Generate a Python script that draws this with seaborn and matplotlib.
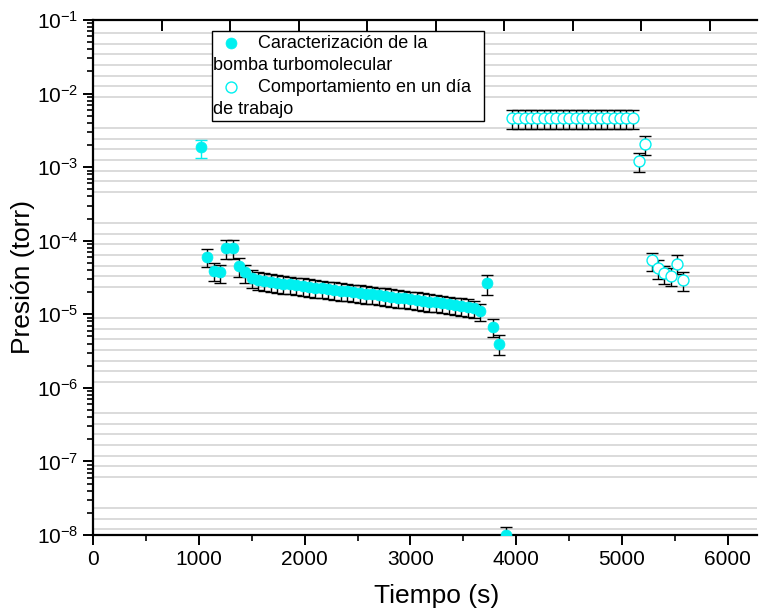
import matplotlib
matplotlib.use("Agg")
import matplotlib.pyplot as plt
import seaborn as sns
from matplotlib.lines import Line2D
from matplotlib.ticker import MultipleLocator, LogLocator, NullFormatter

# Datos
# Caracterización de la bomba turbomolecular (círculos llenos)
t_bomba = [1020, 1080, 1140, 1200, 1260, 1320, 1380,
           1440, 1500, 1560, 1620, 1680, 1740, 1800, 1860, 1920, 1980,
           2040, 2100, 2160, 2220, 2280, 2340, 2400, 2460, 2520, 2580,
           2640, 2700, 2760, 2820, 2880, 2940, 3000, 3060, 3120, 3180,
           3240, 3300, 3360, 3420, 3480, 3540, 3600, 3660,
           3720, 3780, 3840, 3900]
p_bomba = [1.85e-3, 6.0e-5, 3.9e-5, 3.7e-5, 7.9e-5, 7.9e-5, 4.5e-5,
           3.7e-5, 3.15e-5, 2.95e-5, 2.85e-5, 2.75e-5, 2.68e-5, 2.6e-5, 2.55e-5, 2.48e-5, 2.42e-5,
           2.36e-5, 2.31e-5, 2.25e-5, 2.2e-5, 2.15e-5, 2.1e-5, 2.05e-5, 2.0e-5, 1.96e-5, 1.91e-5,
           1.86e-5, 1.82e-5, 1.77e-5, 1.73e-5, 1.69e-5, 1.65e-5, 1.61e-5, 1.57e-5, 1.53e-5, 1.49e-5,
           1.45e-5, 1.41e-5, 1.37e-5, 1.33e-5, 1.29e-5, 1.25e-5, 1.2e-5, 1.1e-5,
           2.65e-5, 6.8e-6, 4.0e-6, 1.0e-8]
err_bomba = [0.5e-3, 1.6e-5, 1.1e-5, 1.0e-5, 2.2e-5, 2.2e-5, 1.25e-5,
             1.0e-5, 0.85e-5, 0.8e-5, 0.77e-5, 0.74e-5, 0.72e-5, 0.7e-5, 0.69e-5, 0.67e-5, 0.65e-5,
             0.64e-5, 0.62e-5, 0.61e-5, 0.59e-5, 0.58e-5, 0.57e-5, 0.55e-5, 0.54e-5, 0.53e-5, 0.52e-5,
             0.5e-5, 0.49e-5, 0.48e-5, 0.47e-5, 0.46e-5, 0.45e-5, 0.43e-5, 0.42e-5, 0.41e-5, 0.4e-5,
             0.39e-5, 0.38e-5, 0.37e-5, 0.36e-5, 0.35e-5, 0.34e-5, 0.32e-5, 0.3e-5,
             0.8e-5, 1.9e-6, 1.2e-6, 0.3e-8]

# Comportamiento en un día de trabajo (círculos vacíos)
t_dia = [3960, 4020, 4080, 4140, 4200, 4260, 4320, 4380, 4440, 4500,
         4560, 4620, 4680, 4740, 4800, 4860, 4920, 4980, 5040, 5100,
         5160, 5220, 5280, 5340, 5400, 5460, 5520, 5580]
p_dia = [4.6e-3, 4.6e-3, 4.6e-3, 4.6e-3, 4.6e-3, 4.6e-3, 4.6e-3, 4.6e-3, 4.6e-3, 4.6e-3,
         4.6e-3, 4.6e-3, 4.6e-3, 4.6e-3, 4.6e-3, 4.6e-3, 4.6e-3, 4.6e-3, 4.6e-3, 4.6e-3,
         1.2e-3, 2.05e-3, 5.4e-5, 4.2e-5, 3.6e-5, 3.3e-5, 4.9e-5, 2.9e-5]
err_dia = [1.3e-3, 1.3e-3, 1.3e-3, 1.3e-3, 1.3e-3, 1.3e-3, 1.3e-3, 1.3e-3, 1.3e-3, 1.3e-3,
           1.3e-3, 1.3e-3, 1.3e-3, 1.3e-3, 1.3e-3, 1.3e-3, 1.3e-3, 1.3e-3, 1.3e-3, 1.3e-3,
           0.35e-3, 0.6e-3, 1.5e-5, 1.2e-5, 1.0e-5, 0.9e-5, 1.4e-5, 0.8e-5]

etiquetas = ["Caracterización de la", "bomba turbomolecular",
             "Comportamiento en un día", "de trabajo"]

CIAN = "#00F0F0"

sns.set_style("white")
plt.rcParams["font.family"] = ["Liberation Sans", "DejaVu Sans"]
plt.rcParams["mathtext.default"] = "regular"
plt.rcParams["text.color"] = "black"
plt.rcParams["axes.labelcolor"] = "black"
plt.rcParams["xtick.color"] = "black"
plt.rcParams["ytick.color"] = "black"

fig = plt.figure(figsize=(7.69, 6.14), dpi=100)
ax = fig.add_axes([93 / 769, 1 - 535 / 614, 664 / 769, 515 / 614])

# Rejilla horizontal en un eje gemelo lineal (como en la gráfica original)
ax_grid = ax.twinx()
ax_grid.set_ylim(-0.53, 48.26)
ax_grid.set_yticks([i for i in range(49) if i % 9 not in (3, 4)])
ax_grid.grid(True, axis="y", color="#d4d4d4", linewidth=1.2)
ax_grid.tick_params(right=False, labelright=False)
for s in ax_grid.spines.values():
    s.set_visible(False)

# Marcas internas del eje superior (capa secundaria del original)
ax_top = ax.twiny()
ax_top.set_xlim(0, 9.69)
ax_top.set_xticks(range(10))
ax_top.tick_params(axis="x", top=True, bottom=False, labeltop=False, labelbottom=False,
                   direction="in", length=8, width=1.4)
for s in ax_top.spines.values():
    s.set_visible(False)

ax.set_zorder(max(ax_grid.get_zorder(), ax_top.get_zorder()) + 1)
ax.patch.set_visible(False)

# Barras de error
ax.errorbar(t_bomba[:1], p_bomba[:1], yerr=err_bomba[:1], fmt="none",
            ecolor=CIAN, elinewidth=1, capsize=4, capthick=1, zorder=2)
ax.errorbar(t_bomba[1:], p_bomba[1:], yerr=err_bomba[1:], fmt="none",
            ecolor="black", elinewidth=1, capsize=4, capthick=1, zorder=2)
ax.errorbar(t_dia, p_dia, yerr=err_dia, fmt="none",
            ecolor="black", elinewidth=1, capsize=4, capthick=1, zorder=2)

# Puntos
sns.scatterplot(x=t_bomba, y=p_bomba, ax=ax, color=CIAN, edgecolor=CIAN,
                s=62, linewidth=0.5, zorder=3, legend=False)
h_bomba = ax.collections[-1]
sns.scatterplot(x=t_dia, y=p_dia, ax=ax, facecolor="white", edgecolor=CIAN,
                s=62, linewidth=1.0, zorder=3, legend=False)
h_dia = ax.collections[-1]

ax.set_yscale("log")
ax.set_ylim(1e-8, 1e-1)
ax.set_xlim(0, 6275)
ax.xaxis.set_major_locator(MultipleLocator(1000))
ax.xaxis.set_minor_locator(MultipleLocator(500))
ax.yaxis.set_major_locator(LogLocator(base=10, numticks=12))
ax.yaxis.set_minor_locator(LogLocator(base=10, subs=range(2, 10), numticks=12))
ax.yaxis.set_minor_formatter(NullFormatter())

ax.spines["right"].set_visible(False)
for lado in ["left", "bottom", "top"]:
    ax.spines[lado].set_color("black")
    ax.spines[lado].set_linewidth(1.6)

ax.tick_params(axis="both", which="major", direction="out", length=7, width=1.4,
               labelsize=15, color="black", labelcolor="black", left=True, bottom=True)
ax.tick_params(axis="both", which="minor", direction="out", length=4, width=1.2,
               color="black", left=True, bottom=True)

ax.set_xlabel("Tiempo (s)", fontsize=19, labelpad=12)
ax.xaxis.set_label_coords(0.518, -0.095)
ax.set_ylabel("Presión (torr)", fontsize=19, labelpad=1)

# Leyenda con el texto partido como en el original
blanco = Line2D([], [], linestyle="none")
leg = ax.legend([h_bomba, blanco, h_dia, blanco],
                [" " * 9 + etiquetas[0], etiquetas[1],
                 " " * 9 + etiquetas[2] + "  ", etiquetas[3]],
                loc="upper left", bbox_to_anchor=(0.179, 0.9786), borderaxespad=0,
                fontsize=13, handlelength=1.7, handletextpad=-1.85, borderpad=0.2,
                labelspacing=0.28, scatterpoints=1, fancybox=False, framealpha=1,
                edgecolor="black")
leg.get_frame().set_linewidth(1.0)

fig.savefig("out.png", dpi=100)
